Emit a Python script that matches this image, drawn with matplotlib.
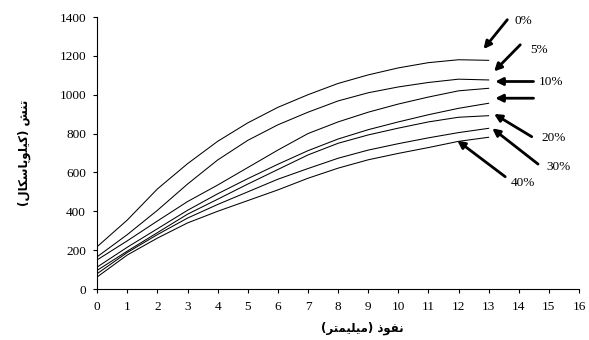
import matplotlib
matplotlib.use("Agg")
import matplotlib.pyplot as plt

# نفوذ (mm)
depth = [0, 1, 2, 3, 4, 5, 6, 7, 8, 9, 10, 11, 12, 13]

# تنش (kPa) برای هر درصد
stress_0 = [218, 355, 515, 645, 760, 855, 935, 1000, 1058, 1102, 1138, 1165, 1180, 1177]
stress_5 = [166, 280, 405, 540, 664, 765, 845, 910, 968, 1010, 1040, 1063, 1080, 1076]
stress_10 = [150, 248, 350, 450, 535, 625, 715, 800, 860, 910, 952, 988, 1020, 1033]
stress_15 = [113, 215, 310, 405, 490, 568, 642, 712, 772, 820, 860, 897, 930, 956]
stress_20 = [96, 195, 290, 385, 462, 540, 615, 690, 750, 793, 828, 860, 884, 892]
stress_30 = [79, 188, 280, 365, 435, 500, 565, 620, 673, 715, 748, 778, 805, 827]
stress_40 = [62, 175, 262, 340, 400, 455, 510, 570, 622, 665, 698, 728, 760, 781]

curves = [stress_0, stress_5, stress_10, stress_15, stress_20, stress_30, stress_40]

# برچسب‌ها و فلش‌ها: (متن، ابتدای فلش، نوک فلش، محل متن)
labels = ["0%", "5%", "10%", "", "20%", "30%", "40%"]
arrow_tail = [(13.62, 1386), (14.05, 1257), (14.49, 1068), (14.49, 982),
              (14.43, 784), (14.64, 643), (13.55, 578)]
arrow_head = [(12.83, 1235), (13.18, 1120), (13.22, 1068), (13.22, 982),
              (13.18, 901), (13.12, 827), (11.96, 764)]
label_pos = [(13.87, 1380), (14.39, 1231), (14.68, 1063), (0, 0),
             (14.74, 776), (14.93, 629), (13.72, 547)]

x_ticks = list(range(0, 17))
y_ticks = [0, 200, 400, 600, 800, 1000, 1200, 1400]

# شکل‌دهی ساده حروف فارسی (matplotlib اتصال حروف را انجام نمی‌دهد)
FORMS = {
    'ت': ('\uFE95', '\uFE96', '\uFE97', '\uFE98'),
    'ن': ('\uFEE5', '\uFEE6', '\uFEE7', '\uFEE8'),
    'ش': ('\uFEB5', '\uFEB6', '\uFEB7', '\uFEB8'),
    'ک': ('\uFB8E', '\uFB8F', '\uFB90', '\uFB91'),
    'ی': ('\uFBFC', '\uFBFD', '\uFBFE', '\uFBFF'),
    'ل': ('\uFEDD', '\uFEDE', '\uFEDF', '\uFEE0'),
    'پ': ('\uFB56', '\uFB57', '\uFB58', '\uFB59'),
    'س': ('\uFEB1', '\uFEB2', '\uFEB3', '\uFEB4'),
    'ف': ('\uFED1', '\uFED2', '\uFED3', '\uFED4'),
    'م': ('\uFEE1', '\uFEE2', '\uFEE3', '\uFEE4'),
    'و': ('\uFEED', '\uFEEE'),
    'ا': ('\uFE8D', '\uFE8E'),
    'ذ': ('\uFEAB', '\uFEAC'),
    'ر': ('\uFEAD', '\uFEAE'),
}
RIGHT_ONLY = set('اذدرزژو')


def fa(text):
    out = []
    for i, ch in enumerate(text):
        if ch not in FORMS:
            out.append(ch)
            continue
        prev = text[i - 1] if i > 0 else ''
        nxt = text[i + 1] if i < len(text) - 1 else ''
        jp = prev in FORMS and prev not in RIGHT_ONLY
        jn = nxt in FORMS and ch not in RIGHT_ONLY
        f = FORMS[ch]
        if jp and jn:
            out.append(f[3])
        elif jp:
            out.append(f[1])
        elif jn:
            out.append(f[2])
        else:
            out.append(f[0])
    vis = ''.join(reversed(out))
    return vis.translate(str.maketrans('()', ')('))


serif = ['Liberation Serif', 'DejaVu Serif']

fig = plt.figure(figsize=(5.89, 3.40), dpi=100)
ax = fig.add_axes([0.165, 0.15, 0.818, 0.8])

for s in curves:
    ax.plot(depth, s, color='black', lw=0.75)

for lab, t, h, p in zip(labels, arrow_tail, arrow_head, label_pos):
    ax.annotate('', xy=h, xytext=t,
                arrowprops=dict(arrowstyle='-|>', color='black', lw=2,
                                mutation_scale=11, shrinkA=0, shrinkB=0))
    if lab:
        ax.text(p[0], p[1], lab, family=serif, fontsize=9.5,
                ha='left', va='center')

ax.set_xlim(0, 16)
ax.set_ylim(0, 1400)
ax.set_xticks(x_ticks)
ax.set_yticks(y_ticks)
for sp in ['top', 'right']:
    ax.spines[sp].set_visible(False)
for sp in ['left', 'bottom']:
    ax.spines[sp].set_linewidth(0.8)
ax.tick_params(direction='out', length=3, width=0.8)
ax.tick_params(axis='x', pad=6)
ax.tick_params(axis='y', pad=5)
for lbl in ax.get_xticklabels() + ax.get_yticklabels():
    lbl.set_family(serif)
    lbl.set_fontsize(9.5)

ax.set_ylabel(fa('تنش (کیلوپاسکال)'), family='DejaVu Sans', fontsize=8.5,
              fontweight='bold')
ax.yaxis.set_label_coords(-0.137, 0.5)
ax.set_xlabel(fa('نفوذ (میلیمتر)'), family='DejaVu Sans', fontsize=8.5,
              fontweight='bold')
ax.xaxis.set_label_coords(0.55, -0.12)

fig.savefig('out.png', dpi=100)
